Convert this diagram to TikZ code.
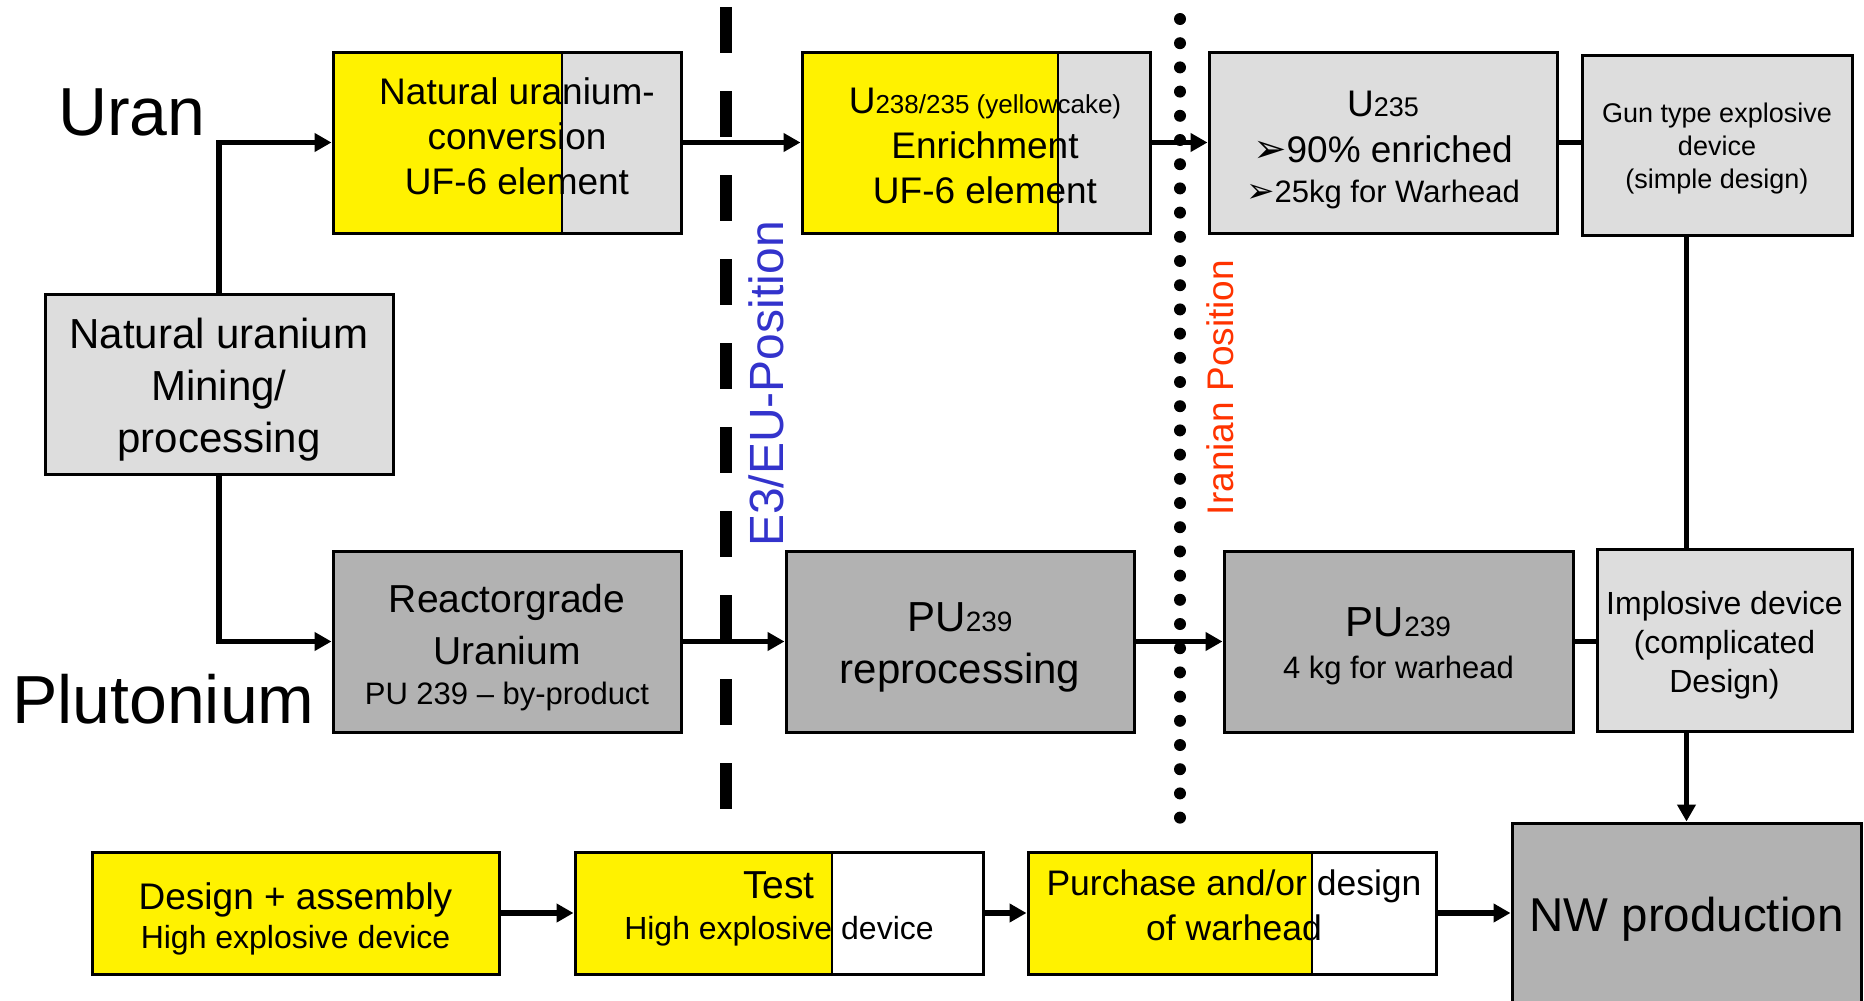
\documentclass[tikz,border=0pt]{standalone}
\usepackage{fontspec}
\setmainfont{Liberation Sans}
\newfontfamily\dejavu{DejaVu Sans}
\usetikzlibrary{arrows.meta}
\definecolor{lgray}{HTML}{DDDDDD}
\definecolor{dgray}{HTML}{B2B2B2}
\definecolor{eblue}{HTML}{3333CC}
\definecolor{ired}{HTML}{FF3300}
\newcommand\fs[2]{\fontsize{#1}{#2}\selectfont}
\begin{document}
\begin{tikzpicture}[x=1pt,y=-1pt,
  box/.style={draw=black, line width=3pt, inner sep=0pt, anchor=center},
  tx/.style={align=center, inner sep=0pt, anchor=center},
  ysplit/.style={path picture={
      \fill[yellow] (path picture bounding box.north west) rectangle ([xshift=#1]path picture bounding box.south west);
      \draw[line width=1.5pt] ([xshift=#1]path picture bounding box.north west) -- ([xshift=#1]path picture bounding box.south west);}},
  conn/.style={line width=5.5pt},
  arr/.style={line width=5.5pt, -{Triangle[length=17pt,width=18pt]}},
  big/.style={font=\fs{68}{80}, anchor=base west, inner sep=0pt}
]
\useasboundingbox (0,0) rectangle (1864,1001);

% boxes
\node[box, fill=lgray, ysplit=229pt, minimum width=348pt, minimum height=181pt] (conv) at (507,142.5) {};
\node[box, fill=lgray, ysplit=256pt, minimum width=348pt, minimum height=181pt] (enr) at (976,142.5) {};
\node[box, fill=lgray, minimum width=348pt, minimum height=181pt] (u235) at (1383,142.5) {};
\node[box, fill=lgray, minimum width=270pt, minimum height=180pt] (gun) at (1717,145) {};
\node[box, fill=lgray, minimum width=348pt, minimum height=180pt] (mining) at (219,384) {};
\node[box, fill=dgray, minimum width=348pt, minimum height=181pt] (reactor) at (507,641.5) {};
\node[box, fill=dgray, minimum width=348pt, minimum height=181pt] (reproc) at (960,641.5) {};
\node[box, fill=dgray, minimum width=349pt, minimum height=181pt] (pu) at (1398.5,641.5) {};
\node[box, fill=lgray, minimum width=255pt, minimum height=182pt] (impl) at (1724.5,640) {};
\node[box, fill=yellow, minimum width=407pt, minimum height=122pt] (design) at (295.5,913) {};
\node[box, fill=white, ysplit=257pt, minimum width=408pt, minimum height=122pt] (test) at (779,913) {};
\node[box, fill=white, ysplit=284pt, minimum width=408pt, minimum height=122pt] (purch) at (1232,913) {};
\node[box, fill=dgray, minimum width=349pt, minimum height=184pt] (nw) at (1686.5,915) {};

% box texts
\node[tx, font=\fs{37}{45}] (convT) at ([shift={(10,-6)}]conv.center)
  {Natural uranium-\\conversion\\UF-6 element};
\node[tx, font=\fs{37}{45}] (enrT) at ([shift={(9,3)}]enr.center)
  {U{\fs{26}{45}238/235 (yellowcake)}\\Enrichment\\UF-6 element};
\node[tx, font=\fs{37}{46}] (u235T) at ([shift={(0,7)}]u235.center)
  {U{\fs{27}{46}235}\\{\dejavu\fs{40}{46}➢}90\% enriched\\[-6pt]{\fs{31}{40}{\dejavu\fs{34}{40}➢}25kg for Warhead}};
\node[tx, font=\fs{27}{33}] (gunT) at ([shift={(0,4)}]gun.center)
  {Gun type explosive\\device\\(simple design)};
\node[tx, font=\fs{42}{52}] (miningT) at ([shift={(0,6)}]mining.center)
  {Natural uranium\\Mining/\\processing};
\node[tx, font=\fs{39}{52}] (reactorT) at ([shift={(0,6)}]reactor.center)
  {Reactorgrade\\Uranium\\[-12pt]{\fs{31}{40}PU 239 – by-product}};
\node[tx, font=\fs{42}{52}] (reprocT) at ([shift={(0,6)}]reproc.center)
  {PU{\fs{28}{52}239}\\reprocessing};
\node[tx, font=\fs{42}{42}] (puT) at ([shift={(0,5)}]pu.center)
  {PU{\fs{28}{42}239}\\{\fs{31}{42}4 kg for warhead}};
\node[tx, font=\fs{32}{39}] (implT) at ([shift={(0,5)}]impl.center)
  {Implosive device\\(complicated\\Design)};
\node[tx, font=\fs{37}{39}] (designT) at ([shift={(0,6)}]design.center)
  {Design + assembly\\{\fs{32}{39}High explosive device}};
\node[tx, font=\fs{39}{41}] (testT) at ([shift={(0,-4)}]test.center)
  {Test\\{\fs{32}{41}High explosive device}};
\node[tx, font=\fs{35.5}{45}] (purchT) at ([shift={(2,-8)}]purch.center)
  {Purchase and/or design\\of warhead};
\node[tx, font=\fs{47.5}{55}] (nwT) at ([shift={(0,4)}]nw.center)
  {NW production};

% side labels
\node[big] (uran) at (58,135) {Uran};
\node[big] (pluto) at (12,723) {Plutonium};

% connectors
\draw[arr] (mining.north) |- (conv.west);
\draw[arr] (mining.south) |- (reactor.west);
\draw[arr] (conv.east) -- (enr.west);
\draw[arr] (enr.east) -- (u235.west);
\draw[conn] (u235.east) -- (u235.east -| gun.west);
\draw[conn] (gun.south -| nw.north) -- (impl.north -| nw.north);
\draw[arr] (reactor.east) -- (reproc.west);
\draw[arr] (reproc.east) -- (pu.west);
\draw[conn] (pu.east) -- (pu.east -| impl.west);
\draw[arr] (impl.south -| nw.north) -- (nw.north);
\draw[arr] (design.east) -- (test.west);
\draw[arr] (test.east) -- (purch.west);
\draw[arr] (purch.east) -- (purch.east -| nw.west);

% position lines
\coordinate (eutop) at (726,7);
\coordinate (eubot) at (726,809);
\draw[line width=12pt, dash pattern=on 46pt off 38pt] (eutop) -- (eubot);
\foreach \k in {0,...,33} {\fill (1180,19+24.2*\k) circle (6pt);}

\node[rotate=90, anchor=base, text=eblue, font=\fs{48}{56}, inner sep=0pt] (eu) at (783,384) {E3/EU-Position};
\node[rotate=90, anchor=base, text=ired, font=\fs{37}{44}, inner sep=0pt] (ir) at (1233,387.5) {Iranian Position};
\end{tikzpicture}
\end{document}
